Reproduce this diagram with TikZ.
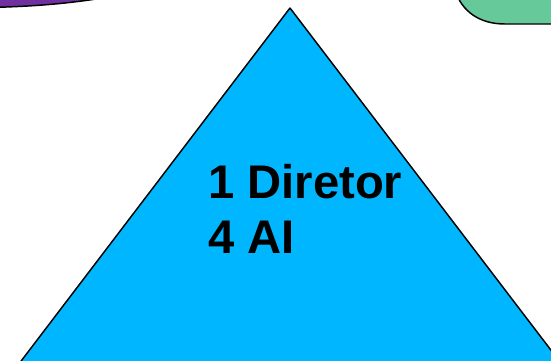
\documentclass[tikz,border=0pt]{standalone}
\usepackage{fontspec}
\setmainfont{Liberation Sans}
\definecolor{triblue}{RGB}{0,183,255}
\definecolor{blobpurple}{RGB}{112,48,160}
\definecolor{boxgreen}{RGB}{102,201,153}
\tikzset{
  outline/.style={draw=black, line width=1.1pt, line join=round},
  bigtext/.style={anchor=north west, inner sep=0pt, align=left,
    font=\fontsize{35.4}{41.25}\selectfont\bfseries}
}
\begin{document}
\begin{tikzpicture}[x=0.75pt,y=0.75pt,yscale=-1,xscale=1]
    \useasboundingbox (0,0) rectangle (551,361);
    \clip (0,0) rectangle (551,361);

    %Shape: Ellipse (purple, top left)
    \draw [outline, fill=blobpurple] (-60,8) .. controls (20,8) and (62,5) .. (115,-4) .. controls (125,-8) and (125,-30) .. (40,-30) -- (-60,-30) -- cycle ;
    %Shape: Rounded Rectangle (green, top right)
    \draw [outline, fill=boxgreen] (600,-40) -- (450,-40) -- (455,-10) .. controls (462,12) and (480,24) .. (505,24) -- (600,24) -- cycle ;
    %Shape: Triangle
    \draw [outline, fill=triblue] (290,8) -- (560,362) -- (600,415) -- (-20,415) -- cycle ;

    % Text Node
    \node [bigtext] (staff) at (208,164.5) {1 Diretor\\4 AI};

\end{tikzpicture}
\end{document}
